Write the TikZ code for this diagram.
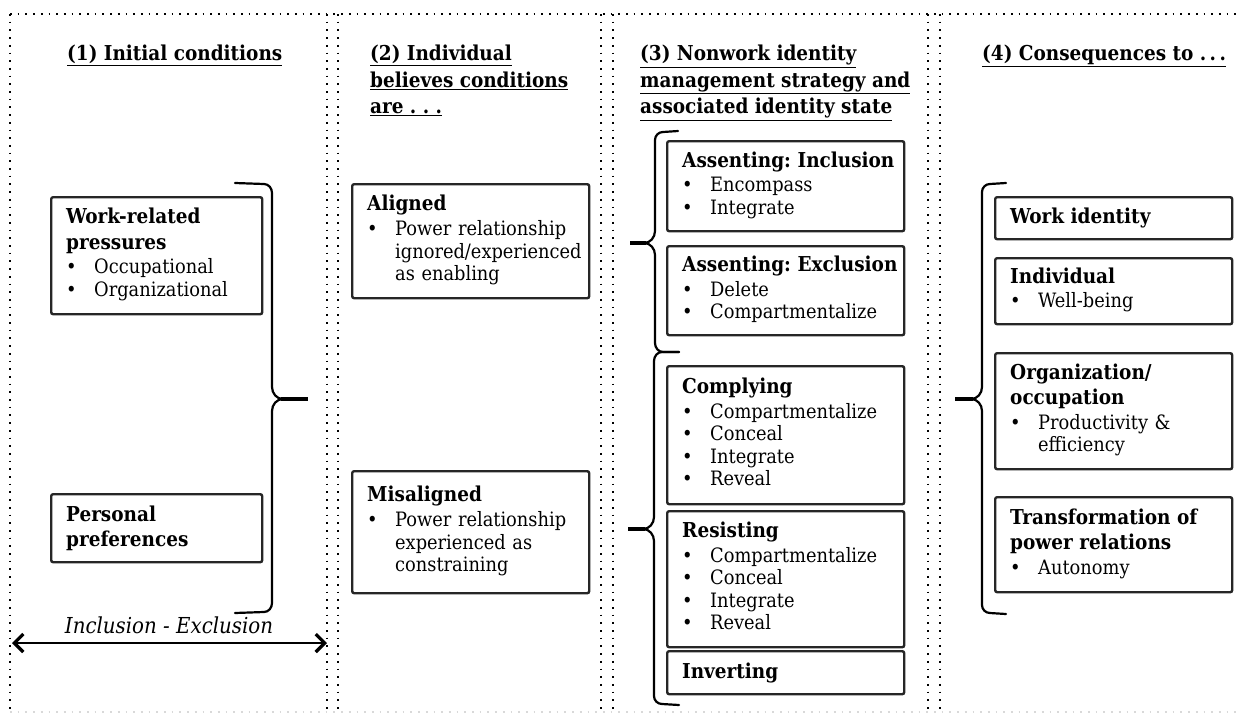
\documentclass[tikz,border=0pt]{standalone}
\usepackage{fontspec}
\setmainfont{DejaVu Serif Condensed}
\usetikzlibrary{arrows.meta}
\frenchspacing
\newcommand\bodysize{\fontsize{19.8}{22.5}\selectfont}
\newcommand\titlesize{\fontsize{20.5}{26.5}\selectfont\bfseries}
\newcommand\bhead[1]{\mbox{\titlesize #1}}
\newcommand\itm[1]{\makebox[28pt][l]{\textbullet}\begin{tabular}[t]{@{}l@{}}#1\end{tabular}}

\begin{document}
\begin{tikzpicture}[x=1pt, y=-1pt,
  box/.style={draw=black!85, line width=2.4pt, rounded corners=2pt, anchor=north west, align=left, inner xsep=15pt, inner ysep=4pt, font=\bodysize},
  wide/.style={text width=207pt},
  narrow/.style={text width=181pt},
  heading/.style={anchor=north west, align=left, font=\titlesize, inner sep=0pt},
  sep/.style={line width=1.7pt, dash pattern=on 1.7pt off 6pt},
  brace/.style={line width=2.2pt, line cap=round},
  stub/.style={line width=4pt},
  barb/.style={line width=2.2pt, {Straight Barb[length=9pt,width=18pt,line width=3.2pt]}-{Straight Barb[length=9pt,width=18pt,line width=3.2pt]}}]
\useasboundingbox (0,0) rectangle (1247,715);
% Column frames
\draw[sep] (10,14) -- (1240,14);
\draw[sep, black!15] (10,712) -- (1240,712);
\foreach \x in {10,327,338,601,613,928,940} {
  \draw[sep] (\x,14) -- (\x,712);
}
% Headings
\node[heading] (h1) at (67,45) {\underline{(1) Initial conditions}};
\node[heading] (h2) at (370,45) {\underline{(2) Individual}\\\underline{believes conditions}\\\underline{are . . .}};
\node[heading] (h3) at (640,45) {\underline{(3) Nonwork identity}\\\underline{management strategy and}\\\underline{associated identity state}};
\node[heading] (h4) at (982,45) {\underline{(4) Consequences to .\,.\,.}};
% (1) Initial conditions
\node[box, narrow, minimum height=117pt] (wrp) at (50,196) {\bhead{Work-related}\\[3pt]\bhead{pressures}\\[2pt]\itm{Occupational}\\\itm{Organizational}};
\node[box, narrow, minimum height=68pt] (pers) at (50,493) {\bhead{Personal}\\[3pt]\bhead{preferences}};
\draw[brace] (235,183) -- (264,184) to[out=0,in=90] (272,193) -- (272,387) to[out=-90,in=180] (283,399);
\draw[brace] (283,399) to[out=180,in=90] (272,411) -- (272,603) to[out=-90,in=0] (264,612) -- (235,613);
\draw[stub] (281,399) -- (308,399);
\coordinate (ieL) at (12,643);
\coordinate (ieR) at (327,643);
\node[font=\fontsize{22}{24}\selectfont\itshape] (ie) at (169,625) {Inclusion - Exclusion};
\draw[barb] (ieL) -- (ieR);
% (2) Beliefs
\node[box, wide, minimum height=114pt] (ali) at (351,183) {\bhead{Aligned}\\[3pt]\itm{Power relationship\\ignored/experienced\\as enabling}};
\node[box, wide, minimum height=122pt] (mis) at (351,470) {\bhead{Misaligned}\\[3pt]\itm{Power relationship\\experienced as\\constraining}};
% (3) Strategies
\node[box, wide, minimum height=90pt] (inc) at (666,140) {\bhead{Assenting: Inclusion}\\[2pt]\itm{Encompass}\\\itm{Integrate}};
\node[box, wide, minimum height=89pt] (exc) at (666,245) {\bhead{Assenting: Exclusion}\\[2pt]\itm{Delete}\\\itm{Compartmentalize}};
\node[box, wide, minimum height=138pt] (cmp) at (666,365) {\bhead{Complying}\\[2pt]\itm{Compartmentalize}\\\itm{Conceal}\\\itm{Integrate}\\\itm{Reveal}};
\node[box, wide, minimum height=136pt] (res) at (666,510) {\bhead{Resisting}\\[2pt]\itm{Compartmentalize}\\\itm{Conceal}\\\itm{Integrate}\\\itm{Reveal}};
\node[box, wide, minimum height=43pt] (inv) at (666,650) {\bhead{Inverting}};
\draw[brace] (678,131) -- (663,132) to[out=180,in=90] (655,140) -- (655,231) to[out=-90,in=0] (644,243);
\draw[brace] (644,243) to[out=0,in=90] (655,255) -- (655,343) to[out=-90,in=180] (663,352) -- (679,352);
\draw[stub] (646,243) -- (630,243);
\draw[brace] (679,352) -- (662,352) to[out=180,in=90] (654,361) -- (654,517) to[out=-90,in=0] (643,529);
\draw[brace] (643,529) to[out=0,in=90] (654,541) -- (654,696) to[out=-90,in=180] (662,704) -- (679,705);
\draw[stub] (645,529) -- (628,529);
% (4) Consequences
\node[box, wide, minimum height=42pt] (wid) at (994,196) {\bhead{Work identity}};
\node[box, wide, minimum height=66pt] (ind) at (994,257) {\bhead{Individual}\\[2pt]\itm{Well-being}};
\node[box, wide, minimum height=116pt] (org) at (994,352) {\bhead{Organization/}\\[3pt]\bhead{occupation}\\[2pt]\itm{Productivity \&\\efficiency}};
\node[box, wide, minimum height=95pt] (tra) at (994,496) {\bhead{Transformation of}\\[3pt]\bhead{power relations}\\[2pt]\itm{Autonomy}};
\draw[brace] (1006,183) -- (990,184) to[out=180,in=90] (982,192) -- (982,387) to[out=-90,in=0] (971,399);
\draw[brace] (971,399) to[out=0,in=90] (982,411) -- (982,605) to[out=-90,in=180] (990,613) -- (1006,614);
\draw[stub] (973,399) -- (955,399);
\end{tikzpicture}
\end{document}
